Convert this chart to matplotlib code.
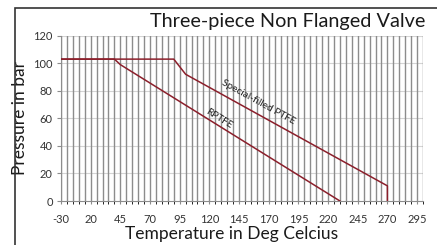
import numpy as np
import matplotlib
matplotlib.use('Agg')
import matplotlib.pyplot as plt
from matplotlib.patches import Rectangle

# category axis (temperature steps are not uniform)
categories = [-30, -20, -10, 0, 10] + list(range(20, 305, 5))
tick_labels = [str(t) for t in categories[::5]]

rptfe_temp = [-30, 40, 45, 230]
rptfe_bar = [103, 103, 99, 0]

special_temp = [-30, 90, 100, 270, 270]
special_bar = [103, 103, 92, 11, 0]

line_color = '#8b1f2b'
plt.rcParams['font.family'] = ['Lato', 'DejaVu Sans']

def to_pos(temps):
    return np.interp(temps, categories, np.arange(len(categories)))

fig = plt.figure(figsize=(4.37, 2.45), dpi=100)
ax = fig.add_axes([61 / 437, 1 - 201 / 245, 362 / 437, 165.3 / 245])

# background grid
for i in range(len(categories)):
    ax.axvline(i, color='#8c8c8c', lw=1.0, zorder=1)
for y in range(20, 121, 20):
    ax.axhline(y, color='#d4d4d4', lw=0.8, zorder=0)

ax.plot(to_pos(rptfe_temp), rptfe_bar, color=line_color, lw=1.1, zorder=3)
ax.plot(to_pos(special_temp), special_bar, color=line_color, lw=1.1, zorder=3)

ax.text(to_pos(128), 59.5, 'RPTFE', rotation=-32, ha='center', va='center',
        fontsize=7.3, color='#222222', zorder=4)
ax.text(to_pos(161), 72, 'Special-filled PTFE', rotation=-29, ha='center', va='center',
        fontsize=7.3, color='#222222', zorder=4)

ax.set_xlim(0, len(categories) - 1)
ax.set_ylim(0, 120)
ax.set_xticks(np.arange(0, len(categories), 5))
ax.set_xticklabels(tick_labels)
ax.set_xticks(np.arange(len(categories)), minor=True)
ax.set_yticks(range(0, 121, 20))
ax.tick_params(axis='both', labelsize=8, colors='#8c8c8c', labelcolor='#333333')
ax.tick_params(axis='x', which='both', length=2.5, pad=7)
ax.tick_params(axis='y', length=3, pad=3)

for side in ['top', 'right']:
    ax.spines[side].set_visible(False)
for side in ['left', 'bottom']:
    ax.spines[side].set_color('#8c8c8c')

ax.set_ylabel('Pressure in bar', fontsize=12.5, color='#1a1a1a', labelpad=4)
fig.text(232 / 437, 1 - 234 / 245, 'Temperature in Deg Celcius', ha='center', va='center',
         fontsize=12.5, color='#1a1a1a')

fig.text(425 / 437, 1 - 22 / 245, 'Three-piece Non Flanged Valve', ha='right', va='center',
         fontsize=14.3, color='#1a1a1a')

# outer frame
fig.patches.append(Rectangle((15 / 437, -0.1), 1.2, 1.1 - 8 / 245,
                             transform=fig.transFigure, fill=False,
                             edgecolor='#333333', lw=1.2))

fig.savefig('out.png', dpi=100)
